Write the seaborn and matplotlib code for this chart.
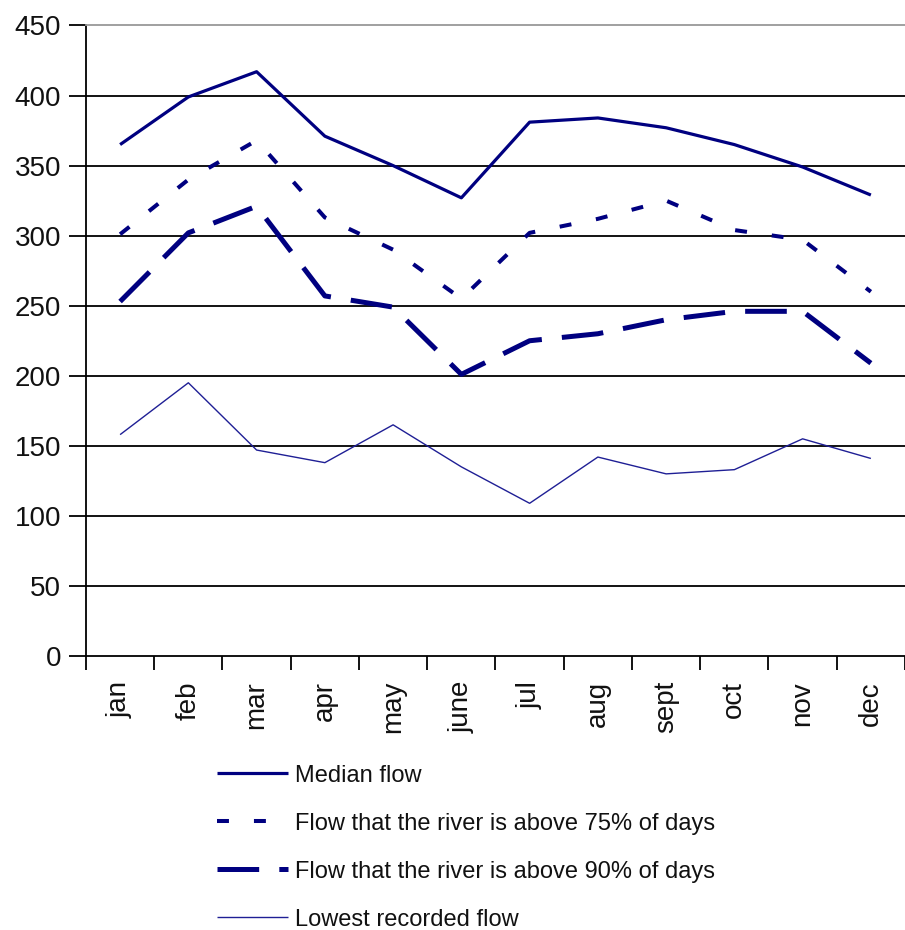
import numpy as np
import pandas as pd
import matplotlib
matplotlib.use("Agg")
import matplotlib.pyplot as plt
import seaborn as sns

months = ["jan", "feb", "mar", "apr", "may", "june", "jul", "aug", "sept", "oct", "nov", "dec"]
median_flow = [365, 399, 417, 371, 350, 327, 381, 384, 377, 365, 349, 329]
flow_75 = [301, 340, 368, 313, 290, 255, 302, 312, 325, 304, 297, 260]
flow_90 = [253, 302, 321, 257, 249, 201, 225, 230, 240, 246, 246, 209]
lowest_flow = [158, 195, 147, 138, 165, 135, 109, 142, 130, 133, 155, 141]
labels = ["Median flow",
          "Flow that the river is above 75% of days",
          "Flow that the river is above 90% of days",
          "Lowest recorded flow"]
yticks = [0, 50, 100, 150, 200, 250, 300, 350, 400, 450]

sns.set_theme(style="white")
plt.rcParams["font.family"] = ["Liberation Sans", "DejaVu Sans"]
plt.rcParams["lines.scale_dashes"] = False

fig = plt.figure(figsize=(9.05, 9.3), dpi=100)
ax = fig.add_axes([0.095, 0.2946, 0.905, 0.6780])

x = np.arange(len(months))
navy = "#000080"
series = [median_flow, flow_75, flow_90, lowest_flow]
styles = [
    dict(lw=2.3, color=navy, dashes=None),
    dict(lw=2.9, color=navy, dashes=(8.6, 18)),
    dict(lw=3.6, color=navy, dashes=(30, 14.5)),
    dict(lw=1.0, color="#1f1f95", dashes=None),
]
for vals, lab, st in zip(series, labels, styles):
    df = pd.DataFrame({"x": x, "y": vals})
    sns.lineplot(data=df, x="x", y="y", ax=ax, color=st["color"], lw=st["lw"], label=lab, legend=False)
    line = ax.lines[-1]
    if st["dashes"] is not None:
        line.set_dashes(st["dashes"])
    line.set_solid_capstyle("butt")
    line.set_dash_capstyle("butt")

ax.set_xlim(-0.5, len(months) - 0.5)
ax.set_ylim(0, 450)
ax.set_yticks(yticks)
ax.set_yticklabels([str(v) for v in yticks], fontsize=20)
ax.set_xticks(x)
ax.set_xticklabels(months, rotation=90, fontsize=20)
ax.set_xticks(np.arange(-0.5, len(months), 1.0), minor=True)
ax.tick_params(axis="x", which="major", length=0, pad=18, colors="#111111")
ax.tick_params(axis="x", which="minor", length=10, width=1.3, color="black", direction="out", bottom=True)
ax.tick_params(axis="y", length=12, width=1.3, color="black", direction="out", left=True, pad=6, colors="#111111")
ax.set_xlabel("")
ax.set_ylabel("")

for v in yticks[1:-1]:
    ax.axhline(v, color="black", lw=1.3, zorder=0)

for s in ["left", "bottom"]:
    ax.spines[s].set_color("black")
    ax.spines[s].set_linewidth(1.3)
ax.spines["top"].set_color("#999999")
ax.spines["top"].set_linewidth(1.3)
ax.spines["right"].set_visible(False)

handles = ax.lines[:4]
leg = fig.legend(handles, labels, loc="upper left", bbox_to_anchor=(0.229, 0.188),
                 frameon=False, prop={"family": "Liberation Sans", "size": 17},
                 handlelength=3.0, handletextpad=0.3,
                 labelspacing=1.1, borderaxespad=0)
for t in leg.get_texts():
    t.set_color("#111111")

fig.savefig("out.png", dpi=100)
